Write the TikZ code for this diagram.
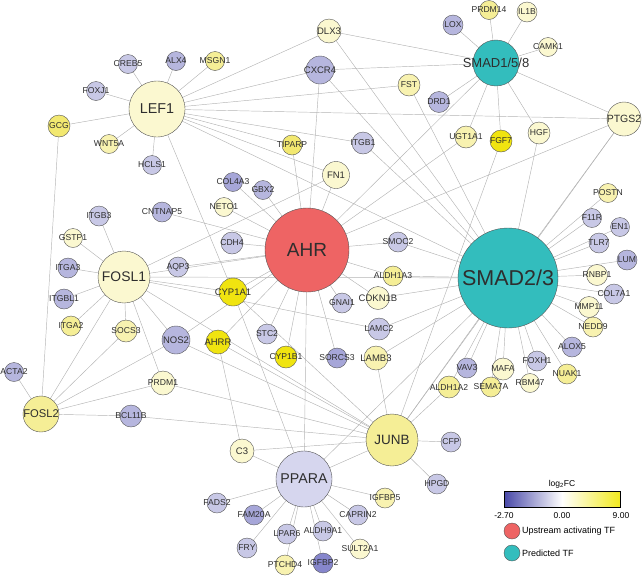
\documentclass[tikz,border=0pt]{standalone}
\usepackage{fontspec}
\setmainfont{Liberation Sans}
\usetikzlibrary{backgrounds}
\pgfdeclarelayer{edges}
\pgfsetlayers{edges,main}
\definecolor{edgegray}{HTML}{B4B4B4}
\definecolor{bordergray}{HTML}{555555}
\definecolor{txt}{HTML}{2E2E2E}
\definecolor{ahrred}{HTML}{EE6464}
\definecolor{tfteal}{HTML}{33BDBD}
\definecolor{cbBlue}{HTML}{4848A8}
\definecolor{cbYellow}{HTML}{F2EA1E}
\definecolor{lv}{HTML}{C8C8E6}
\definecolor{lvm}{HTML}{B6B6DE}
\definecolor{lvd}{HTML}{A6A6D8}
\definecolor{lvx}{HTML}{8686CC}
\definecolor{yp}{HTML}{FBF8D0}
\definecolor{yl}{HTML}{F8F2B0}
\definecolor{ym}{HTML}{F5EE96}
\definecolor{yd}{HTML}{F2E870}
\definecolor{yb}{HTML}{F0E410}
\definecolor{ppara}{HTML}{D6D6EE}
\tikzset{
  gene/.style={circle, draw=bordergray, line width=0.4pt, inner sep=0pt},
  glab/.style={text=txt, inner sep=0pt, font=\fontsize{8.6}{9}\selectfont},
  mlab/.style={text=txt, inner sep=0pt, font=\fontsize{9.5}{10}\selectfont},
  edge/.style={draw=edgegray, line width=0.45pt},
}
% \gn{name}{x,y}{radius}{fill}{label}{labelstyle}
\newcommand{\gn}[6]{\node[gene, minimum size=2*#3, fill=#4, label={[#6]center:#5}] (#1) at (#2) {};}
\begin{document}
\begin{tikzpicture}[x=1pt,y=-1pt]
\useasboundingbox (0,0) rectangle (642,576);
% hubs
\gn{LEF1}{157,109}{28}{yp}{LEF1}{text=txt,inner sep=0pt,font=\fontsize{14.3}{15}\selectfont}
\gn{SMAD158}{496,63}{23}{tfteal}{SMAD1/5/8}{text=txt,inner sep=0pt,font=\fontsize{13}{14}\selectfont}
\gn{PTGS2}{624,119}{17}{yp}{PTGS2}{text=txt,inner sep=0pt,font=\fontsize{10.5}{11}\selectfont}
\gn{AHR}{307,250}{42}{ahrred}{AHR}{text=txt,inner sep=0pt,font=\fontsize{19}{20}\selectfont}
\gn{SMAD23}{508,278}{50}{tfteal}{SMAD2/3}{text=txt,inner sep=0pt,font=\fontsize{21.5}{22}\selectfont}
\gn{FOSL1}{124,277}{26}{yp}{FOSL1}{text=txt,inner sep=0pt,font=\fontsize{13.9}{14}\selectfont}
\gn{FOSL2}{41,414}{18}{ym}{FOSL2}{text=txt,inner sep=0pt,font=\fontsize{11.2}{12}\selectfont}
\gn{JUNB}{392,440}{26}{ym}{JUNB}{text=txt,inner sep=0pt,font=\fontsize{13.5}{14}\selectfont}
\gn{PPARA}{304,479}{28}{ppara}{PPARA}{text=txt,inner sep=0pt,font=\fontsize{14.2}{15}\selectfont}
% LEF1 leaves
\gn{CREB5}{128,64}{9.5}{lv}{CREB5}{glab}
\gn{ALX4}{176,61}{9.5}{lvm}{ALX4}{glab}
\gn{MSGN1}{215,61}{9.5}{ym}{MSGN1}{glab}
\gn{FOXJ1}{96,91}{9.5}{lv}{FOXJ1}{glab}
\gn{GCG}{59,126}{11}{yd}{GCG}{glab}
\gn{WNT5A}{109,144}{9.5}{yl}{WNT5A}{glab}
\gn{HCLS1}{152,165}{9.5}{lv}{HCLS1}{glab}
% top middle
\gn{DLX3}{329,31}{12}{yp}{DLX3}{mlab}
\gn{CXCR4}{320,70}{14}{lvm}{CXCR4}{mlab}
\gn{FST}{409,85}{11}{yl}{FST}{glab}
\gn{TIPARP}{292,145}{10}{yd}{TIPARP}{glab}
\gn{ITGB1}{363,143}{11}{lv}{ITGB1}{glab}
\gn{FN1}{336,175}{13.5}{yp}{FN1}{mlab}
\gn{COL4A3}{233,182}{9.5}{lvd}{COL4A3}{glab}
\gn{GBX2}{263,190}{9.5}{lvm}{GBX2}{glab}
\gn{NETO1}{224,207}{9.5}{yp}{NETO1}{glab}
% SMAD1/5/8 leaves
\gn{PRDM14}{489,10}{9.5}{ym}{PRDM14}{glab}
\gn{IL1B}{527,12}{10}{yp}{IL1B}{glab}
\gn{LOX}{453,25}{10}{lvm}{LOX}{glab}
\gn{CAMK1}{548,47}{9.5}{yp}{CAMK1}{glab}
\gn{DRD1}{439,102}{10.5}{lvm}{DRD1}{glab}
\gn{UGT1A1}{466,137}{11}{yl}{UGT1A1}{glab}
\gn{FGF7}{501,141}{11}{yb}{FGF7}{glab}
\gn{HGF}{539,133}{11}{yp}{HGF}{glab}
\gn{POSTN}{608,193}{9.5}{yl}{POSTN}{glab}
% FOSL1 leaves
\gn{ITGB3}{99,216}{10}{lv}{ITGB3}{glab}
\gn{CNTNAP5}{162,212}{10}{lvm}{CNTNAP5}{glab}
\gn{GSTP1}{73,238}{9.5}{yp}{GSTP1}{glab}
\gn{ITGA3}{68,268}{10}{lvm}{ITGA3}{glab}
\gn{AQP3}{178,267}{10}{lv}{AQP3}{glab}
\gn{ITGBL1}{64,299}{10}{lvm}{ITGBL1}{glab}
\gn{ITGA2}{71,326}{10}{ym}{ITGA2}{glab}
\gn{SOCS3}{126,331}{11}{yl}{SOCS3}{glab}
\gn{NOS2}{176,340}{14}{lvm}{NOS2}{mlab}
\gn{ACTA2}{14,372}{9.5}{lvm}{ACTA2}{glab}
\gn{PRDM1}{163,383}{12}{yp}{PRDM1}{glab}
\gn{BCL11B}{131,416}{11}{lvm}{BCL11B}{glab}
% AHR leaves
\gn{CDH4}{232,243}{11}{lv}{CDH4}{glab}
\gn{SMOC2}{398,242}{10}{lv}{SMOC2}{glab}
\gn{ALDH1A3}{393,276}{10}{ym}{ALDH1A3}{glab}
\gn{CYP1A1}{233,292}{14}{yb}{CYP1A1}{mlab}
\gn{GNAI1}{342,303}{10}{lv}{GNAI1}{glab}
\gn{CDKN1B}{378,298}{11.5}{yp}{CDKN1B}{mlab}
\gn{LAMC2}{379,329}{11}{lv}{LAMC2}{glab}
\gn{STC2}{267,334}{10}{lv}{STC2}{glab}
\gn{AHRR}{218,342}{12}{yb}{AHRR}{mlab}
\gn{CYP1B1}{286,357}{11}{yb}{CYP1B1}{glab}
\gn{SORCS3}{337,358}{10}{lvd}{SORCS3}{glab}
\gn{LAMB3}{376,358}{12}{yl}{LAMB3}{mlab}
% SMAD2/3 leaves
\gn{F11R}{592,218}{9.5}{lv}{F11R}{glab}
\gn{EN1}{620,227}{9.5}{lv}{EN1}{glab}
\gn{TLR7}{599,243}{10}{lv}{TLR7}{glab}
\gn{LUM}{627,260}{10}{lvm}{LUM}{glab}
\gn{RNBP1}{597,275}{10.5}{yp}{RNBP1}{glab}
\gn{COL7A1}{614,294}{10}{lv}{COL7A1}{glab}
\gn{MMP11}{589,307}{10.5}{yp}{MMP11}{glab}
\gn{NEDD9}{593,327}{10}{yl}{NEDD9}{glab}
\gn{ALOX5}{572,347}{10}{lvm}{ALOX5}{glab}
\gn{FOXH1}{537,361}{10}{lv}{FOXH1}{glab}
\gn{NUAK1}{567,374}{10}{ym}{NUAK1}{glab}
\gn{VAV3}{467,368}{10}{lvm}{VAV3}{glab}
\gn{MAFA}{503,369}{11}{yp}{MAFA}{glab}
\gn{RBM47}{530,383}{9.5}{yp}{RBM47}{glab}
\gn{ALDH1A2}{449,387}{11}{ym}{ALDH1A2}{glab}
\gn{SEMA7A}{491,387}{10}{ym}{SEMA7A}{glab}
% bottom
\gn{C3}{242,451}{12}{yp}{C3}{mlab}
\gn{CFP}{451,442}{10}{lv}{CFP}{glab}
\gn{HPGD}{437,484}{10}{lv}{HPGD}{glab}
\gn{FADS2}{217,503}{10}{lv}{FADS2}{glab}
\gn{FAM20A}{254,515}{10}{lvd}{FAM20A}{glab}
\gn{CAPRIN2}{358,515}{10}{lv}{CAPRIN2}{glab}
\gn{IGFBP5}{385,498}{10}{yl}{IGFBP5}{glab}
\gn{LPAR6}{287,534}{10}{lv}{LPAR6}{glab}
\gn{ALDH9A1}{323,531}{10}{lv}{ALDH9A1}{glab}
\gn{FRY}{247,548}{10}{lv}{FRY}{glab}
\gn{SULT2A1}{360,549}{10}{yp}{SULT2A1}{glab}
\gn{PTCHD4}{285,565}{10}{yl}{PTCHD4}{glab}
\gn{IGFBP2}{323,563}{10}{lvx}{IGFBP2}{glab}
% edges
\begin{pgfonlayer}{edges}
\foreach \a/\b in {LEF1/CREB5, LEF1/ALX4, LEF1/MSGN1, LEF1/FOXJ1, LEF1/GCG, LEF1/WNT5A, LEF1/HCLS1,
  LEF1/DLX3, LEF1/CXCR4, LEF1/FST, LEF1/PTGS2, LEF1/ITGB1, LEF1/TIPARP, LEF1/FN1, LEF1/SMAD23, LEF1/CYP1A1,
  SMAD158/PRDM14, SMAD158/IL1B, SMAD158/LOX, SMAD158/CAMK1, SMAD158/DRD1, SMAD158/UGT1A1, SMAD158/FGF7,
  SMAD158/HGF, SMAD158/PTGS2, SMAD158/CXCR4, SMAD158/DLX3, SMAD158/AHR,
  PTGS2/AHR, PTGS2/SMAD23, PTGS2/JUNB, DLX3/SMAD23, CXCR4/AHR, CXCR4/SMAD23, FST/SMAD23, ITGB1/SMAD23,
  TIPARP/AHR, FN1/AHR, FN1/FOSL1, UGT1A1/AHR, FGF7/JUNB, HGF/SMAD23,
  AHR/GBX2, AHR/COL4A3, AHR/NETO1, AHR/CDH4, AHR/CYP1A1, AHR/AHRR, AHR/STC2, AHR/CYP1B1, AHR/PPARA,
  AHR/SORCS3, AHR/GNAI1, AHR/CDKN1B, AHR/ALDH1A3, AHR/SMOC2, AHR/FOSL1, AHR/AQP3, AHR/CNTNAP5, AHR/NOS2,
  FOSL1/ITGB3, FOSL1/GSTP1, FOSL1/ITGA3, FOSL1/ITGBL1, FOSL1/ITGA2, FOSL1/SOCS3, FOSL1/NOS2, FOSL1/PRDM1,
  FOSL1/FOSL2, FOSL1/CYP1A1, FOSL1/JUNB, FOSL1/LAMC2, FOSL1/SMAD23,
  FOSL2/GCG, FOSL2/ACTA2, FOSL2/SOCS3, FOSL2/NOS2, FOSL2/PRDM1, FOSL2/BCL11B,
  JUNB/PRDM1, JUNB/BCL11B, JUNB/C3, JUNB/PPARA, JUNB/CFP, JUNB/HPGD, JUNB/ALDH1A2, JUNB/SMAD23, JUNB/LAMB3,
  JUNB/CYP1A1, JUNB/AHRR, JUNB/NOS2,
  PPARA/C3, PPARA/FADS2, PPARA/FAM20A, PPARA/FRY, PPARA/LPAR6, PPARA/PTCHD4, PPARA/ALDH9A1, PPARA/IGFBP2,
  PPARA/SULT2A1, PPARA/CAPRIN2, PPARA/IGFBP5, PPARA/SMAD23, PPARA/CYP1A1,
  SMAD23/SMOC2, SMAD23/ALDH1A3, SMAD23/CDKN1B, SMAD23/LAMC2, SMAD23/LAMB3, SMAD23/POSTN, SMAD23/F11R,
  SMAD23/EN1, SMAD23/TLR7, SMAD23/LUM, SMAD23/RNBP1, SMAD23/COL7A1, SMAD23/MMP11, SMAD23/NEDD9,
  SMAD23/ALOX5, SMAD23/FOXH1, SMAD23/NUAK1, SMAD23/RBM47, SMAD23/MAFA, SMAD23/SEMA7A, SMAD23/VAV3,
  SMAD23/ALDH1A2, C3/AHRR}
  \draw[edge] (\a.center) -- (\b.center);
\end{pgfonlayer}
% legend
\node[text=black, inner sep=0pt, font=\fontsize{8.5}{9}\selectfont] (lgt) at (562,484) {log\textsubscript{2}FC};
\shade[left color=cbBlue, right color=white] (504,491) rectangle (562,507);
\shade[left color=white, right color=cbYellow] (562,491) rectangle (620,507);
\draw[line width=0.6pt] (504,491) rectangle (620,507);
\node[inner sep=0pt, font=\fontsize{8.5}{9}\selectfont] (tk1) at (504,516) {-2.70};
\node[inner sep=0pt, font=\fontsize{8.5}{9}\selectfont] (tk2) at (562,516) {0.00};
\node[inner sep=0pt, font=\fontsize{8.5}{9}\selectfont] (tk3) at (621,516) {9.00};
\node[gene, minimum size=16, fill=ahrred] (lg1) at (512,531) {};
\node[anchor=west, inner sep=0pt, font=\fontsize{9}{10}\selectfont] (lg1t) at (522,531) {Upstream activating TF};
\node[gene, minimum size=16, fill=tfteal] (lg2) at (512,553) {};
\node[anchor=west, inner sep=0pt, font=\fontsize{9}{10}\selectfont] (lg2t) at (522,553) {Predicted TF};
\end{tikzpicture}
\end{document}
